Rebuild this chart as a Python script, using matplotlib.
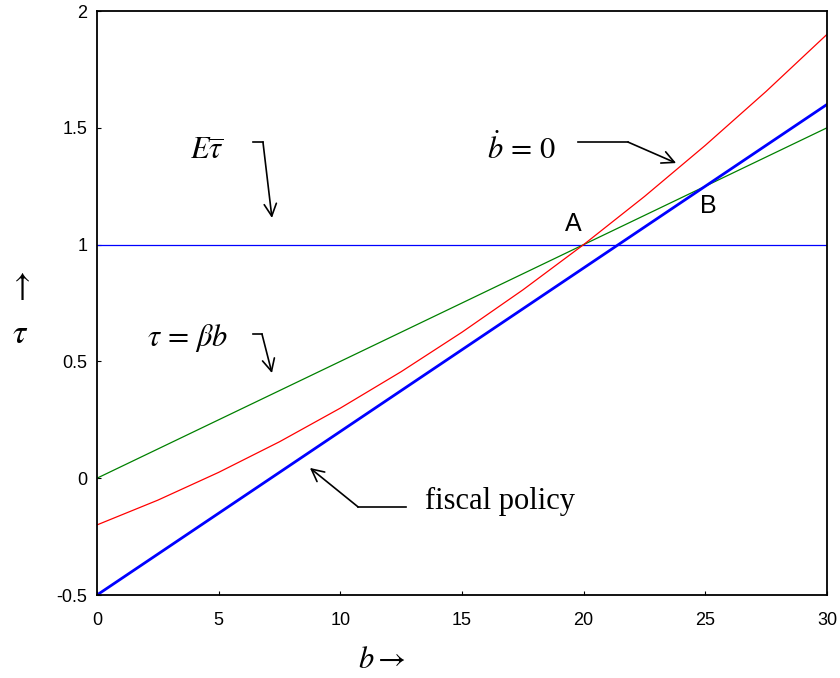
import numpy as np
import matplotlib.pyplot as plt

plt.rcParams['font.family'] = ['Liberation Sans', 'DejaVu Sans']
plt.rcParams['mathtext.fontset'] = 'stix'
plt.rcParams['axes.unicode_minus'] = False

# values, b = 0, 2.5, ..., 30
b = [0, 2.5, 5, 7.5, 10, 12.5, 15, 17.5, 20, 22.5, 25, 27.5, 30]
bdot_zero = [-0.2, -0.094, 0.025, 0.156, 0.3, 0.456, 0.625, 0.806, 1.0, 1.206, 1.425, 1.656, 1.9]
tau_beta_b = [0.0, 0.125, 0.25, 0.375, 0.5, 0.625, 0.75, 0.875, 1.0, 1.125, 1.25, 1.375, 1.5]
fiscal = [-0.5, -0.325, -0.15, 0.025, 0.2, 0.375, 0.55, 0.725, 0.9, 1.075, 1.25, 1.425, 1.6]
e_tau_bar = 1.0

xticks = [0, 5, 10, 15, 20, 25, 30]
yticks = [-0.5, 0, 0.5, 1, 1.5, 2]
ytick_labels = ['-0.5', '0', '0.5', '1', '1.5', '2']

fig = plt.figure(figsize=(8.4, 6.78), dpi=100)
ax = fig.add_axes([97/840, 1 - 595/678, 730/840, 584/678])

ax.axhline(e_tau_bar, color='#0000ff', lw=0.9)
ax.plot(b, tau_beta_b, color='#008000', lw=0.9)
ax.plot(b, bdot_zero, color='#ff0000', lw=0.9)
ax.plot(b, fiscal, color='#0000ff', lw=2.0)

ax.set_xlim(0, 30)
ax.set_ylim(-0.5, 2)
ax.set_xticks(xticks)
ax.set_yticks(yticks)
ax.set_yticklabels(ytick_labels)
ax.tick_params(direction='in', length=3, labelsize=13)
ax.tick_params(axis='x', pad=12)
ax.tick_params(axis='y', pad=7)
for s in ax.spines.values():
    s.set_linewidth(1.3)

# annotations: text, short horizontal stub, then arrow
arrow = dict(arrowstyle='->', color='black', lw=1.2, mutation_scale=22,
             shrinkA=0, shrinkB=0)

ax.text(4.5, 1.40, r'$E\overline{\tau}$', fontsize=22, ha='center', va='center')
ax.plot([6.41, 6.82], [1.439, 1.439], color='black', lw=1.2)
ax.annotate('', xy=(7.19, 1.114), xytext=(6.82, 1.439), arrowprops=arrow)

ax.text(17.45, 1.405, r'$\dot{b}\,=\,0$', fontsize=22, ha='center', va='center')
ax.plot([19.77, 21.82], [1.439, 1.439], color='black', lw=1.2)
ax.annotate('', xy=(23.8, 1.349), xytext=(21.82, 1.439), arrowprops=arrow)

ax.text(3.74, 0.60, r'$\tau\,=\,\beta b$', fontsize=22, ha='center', va='center')
ax.plot([6.41, 6.78], [0.617, 0.617], color='black', lw=1.2)
ax.annotate('', xy=(7.19, 0.45), xytext=(6.78, 0.617), arrowprops=arrow)

ax.text(16.56, -0.10, 'fiscal policy', fontsize=22, ha='center', va='center',
        family='Liberation Serif')
ax.plot([12.7, 10.73], [-0.123, -0.123], color='black', lw=1.2)
ax.annotate('', xy=(8.75, 0.044), xytext=(10.73, -0.123), arrowprops=arrow)

ax.text(19.56, 1.09, 'A', fontsize=18, ha='center', va='center')
ax.text(25.11, 1.165, 'B', fontsize=18, ha='center', va='center')

fig.text(20/840, 1 - 287/678, r'$\uparrow$', fontsize=24, ha='center', va='center')
fig.text(20/840, 1 - 335/678, r'$\tau$', fontsize=24, ha='center', va='center')
fig.text(382/840, 1 - 660/678, r'$b\rightarrow$', fontsize=22, ha='center', va='center')

fig.savefig('out.png', dpi=100)
